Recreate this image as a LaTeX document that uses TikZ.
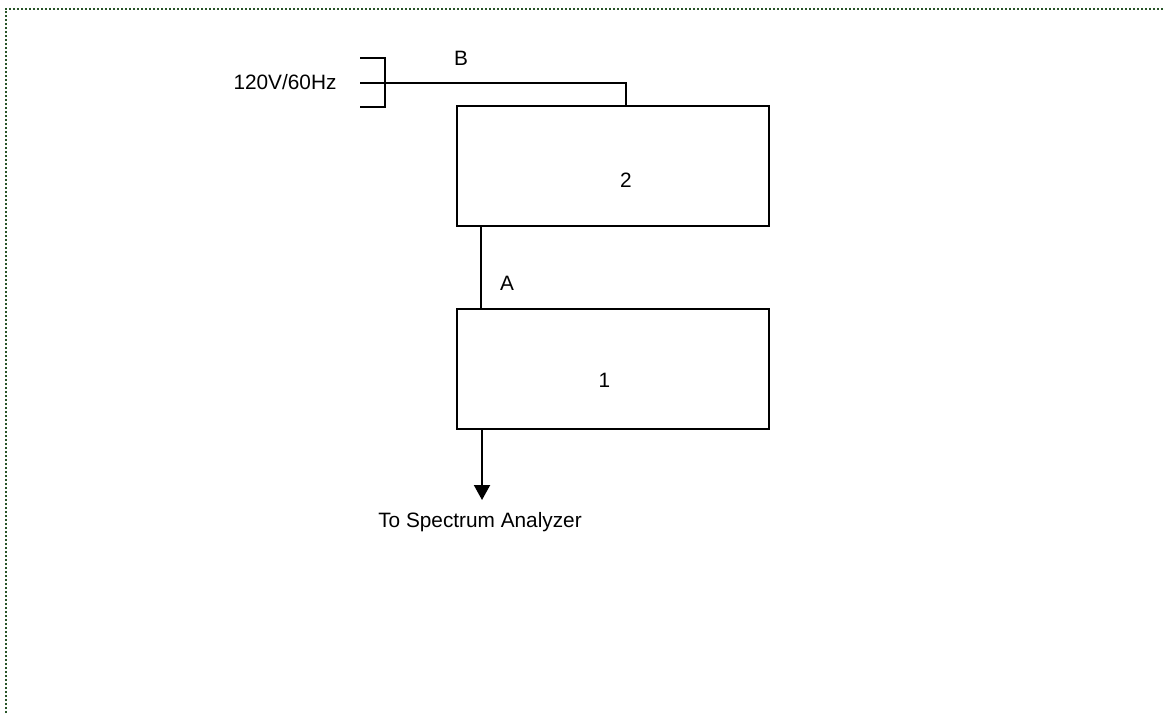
\documentclass[tikz,border=0pt]{standalone}
\usepackage{fontspec}
\setmainfont{Liberation Sans}
\usetikzlibrary{arrows.meta}
\definecolor{framegreen}{RGB}{40,85,40}
\begin{document}
\begin{tikzpicture}[x=1pt,y=-1pt,
  wire/.style={line width=2pt,black},
  blockbox/.style={draw,line width=2pt,minimum width=312pt,minimum height=120pt,inner sep=0pt},
  lbl/.style={font=\fontsize{20.8}{25}\selectfont,inner sep=0pt,anchor=center}]
  \useasboundingbox (0,0) rectangle (1164,713);
  % dotted frame along the top and the left edge
  \draw[framegreen,line width=2pt,dash pattern=on 2pt off 2pt] (5.5,713) -- (5.5,8.5) -- (1164,8.5);

  % the two units
  \node[blockbox] (box2) at (613,166) {};
  \node[blockbox] (box1) at (613,369) {};
  \node[lbl] (n2) at (626,180) {2};
  \node[lbl] (n1) at (604.5,380.5) {1};

  % mains plug with three prongs
  \coordinate (plugtop) at (385,57.5);
  \coordinate (plugmid) at (385,82.5);
  \coordinate (plugbot) at (385,107);
  \coordinate (prongtop) at (360,57.5);
  \coordinate (prongmid) at (360,82.5);
  \coordinate (prongbot) at (360,107);
  \draw[wire] (prongtop) -- (plugtop) -- (plugbot) -- (prongbot);
  \draw[wire] (prongmid) -- (plugmid);
  \node[lbl] (mains) at (285,82.5) {120V/60Hz};

  % cable B from the plug to unit 2
  \coordinate (bend) at (626,82.5);
  \draw[wire] (plugmid) -- (bend) -- (bend |- box2.north);
  \node[lbl] (labB) at (461,58) {B};

  % cable A between the units
  \coordinate (acol) at (481,0);
  \draw[wire] (acol |- box2.south) -- (acol |- box1.north);
  \node[lbl] (labA) at (507,283) {A};

  % output to the analyzer
  \coordinate (outcol) at (482,0);
  \coordinate (tip) at (482,500);
  \draw[wire,-{Triangle[width=16pt,length=15pt]}] (outcol |- box1.south) -- (tip);
  \node[lbl] (sa) at (480,522.5) {To Spectrum Analyzer};
\end{tikzpicture}
\end{document}
